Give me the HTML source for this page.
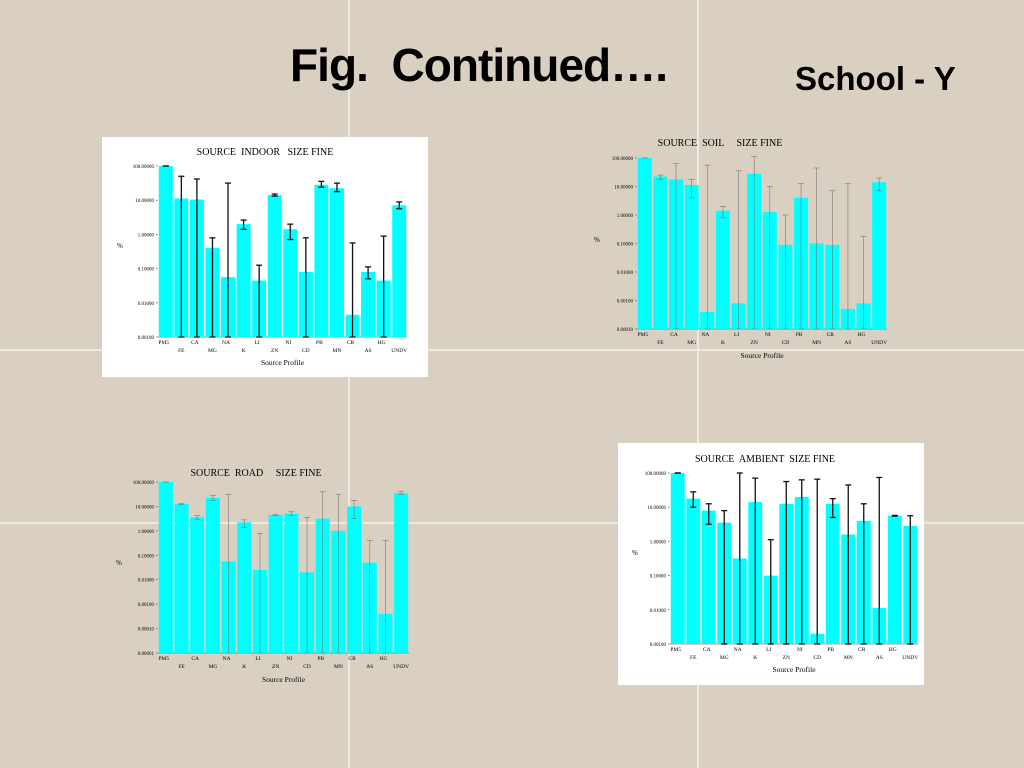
<!DOCTYPE html>
<html><head><meta charset="utf-8"><style>
body{margin:0;width:1024px;height:768px;overflow:hidden;background:#d9d0c2;font-family:"Liberation Sans",sans-serif}
svg{position:absolute;left:0;top:0}
text{white-space:pre}
</style></head><body>
<svg id="s" width="1024" height="768" xmlns="http://www.w3.org/2000/svg">
<rect width="1024" height="768" fill="#d9d0c2"/>
<g stroke="#f4f0ea" stroke-width="1.5">
<line x1="349" y1="0" x2="349" y2="768"/><line x1="698" y1="0" x2="698" y2="768"/>
<line x1="0" y1="350" x2="1024" y2="350"/><line x1="0" y1="523" x2="1024" y2="523"/>
</g>
<rect x="102" y="137" width="326" height="240" fill="#fff"/>
<rect x="618" y="443" width="306" height="242" fill="#fff"/>
<text x="290" y="81" font-size="46" font-weight="bold" fill="#000" textLength="378">Fig.  Continued….</text>
<text x="795" y="90" font-size="33" font-weight="bold" fill="#000">School - Y</text>
<g id="g"></g>
</svg>
<script>
var cats=["PM5","FE","CA","MG","NA","K","LI","ZN","NI","CD","PB","MN","CR","AS","HG","UNDV"];
var charts=[
{t:"SOURCE  INDOOR   SIZE FINE",tx:265,ty:155,x0:158,x1:407,yt:166,yb:337,top:2,dec:5,fmt:["100.00000","10.00000","1.00000","0.10000","0.01000","0.00100"],thick:1,
v:[2,1.05,1.02,-0.4,-1.25,0.3,-1.35,1.15,0.15,-1.1,1.45,1.35,-2.35,-1.1,-1.35,0.85],
e:[[2,2],[1.7,-3],[1.62,-3],[-0.1,-3],[1.5,-3],[0.42,0.15],[-0.9,-3],[1.18,1.12],[0.3,-0.15],[-0.1,-3],[1.55,1.38],[1.5,1.25],[-0.25,-3],[-0.95,-1.3],[-0.05,-3],[0.95,0.75]],py:248,px:117,sx:365},
{t:"SOURCE  SOIL     SIZE FINE",tx:720,ty:146,x0:637,x1:887,yt:158,yb:329,top:2,dec:6,fmt:["100.00000","10.00000","1.00000","0.10000","0.01000","0.00100","0.00010"],thick:0,
v:[2,1.35,1.25,1.05,-3.4,0.15,-3.1,1.45,0.1,-1.05,0.6,-1,-1.05,-3.3,-3.1,1.15],
e:[[2,2],[1.4,1.25],[1.8,-4],[1.25,0.6],[1.75,-4],[0.3,-0.1],[1.55,-4],[2.05,-4],[1.0,-4],[0,-4],[1.1,-4],[1.65,-4],[0.85,-4],[1.1,-4],[-0.75,-4],[1.3,0.85]],py:242,px:594,sx:358},
{t:"SOURCE  ROAD     SIZE FINE",tx:256,ty:476,x0:158,x1:409,yt:482,yb:653,top:2,dec:7,fmt:["100.00000","10.00000","1.00000","0.10000","0.01000","0.00100","0.00010","0.00001"],thick:0,
v:[2,1.1,0.55,1.35,-1.25,0.35,-1.6,0.65,0.7,-1.7,0.5,0,1.0,-1.3,-3.4,1.55],
e:[[2,2],[1.12,1.08],[0.62,0.48],[1.45,1.25],[1.5,-5],[0.45,0.15],[-0.1,-5],[0.68,0.62],[0.78,0.62],[0.55,-5],[1.6,-5],[1.5,-5],[1.25,0.5],[-0.4,-5],[-0.4,-5],[1.62,1.48]],py:565,px:116,sx:682},
{t:"SOURCE  AMBIENT  SIZE FINE",tx:765,ty:462,x0:670,x1:918,yt:473,yb:644,top:2,dec:5,fmt:["100.00000","10.00000","1.00000","0.10000","0.01000","0.00100"],thick:1,
v:[2,1.25,0.9,0.55,-0.5,1.15,-1,1.1,1.3,-2.7,1.1,0.2,0.6,-1.95,0.75,0.45],
e:[[2,2],[1.45,1.0],[1.1,0.5],[0.9,-3],[2,-3],[1.85,-3],[0.05,-3],[1.75,-3],[1.8,-3],[1.82,-3],[1.25,0.7],[1.65,-3],[1.1,-3],[1.87,-3],[0.76,0.74],[0.75,-3]],py:555,px:632,sx:672}
];
var h="";
charts.forEach(function(c){
 var d=(c.yb-c.yt)/c.dec, bw=(c.x1-c.x0)/16;
 function Y(l){return Math.min(c.yb,c.yt+(c.top-l)*d);}
 h+='<text x="'+c.tx+'" y="'+c.ty+'" font-family="Liberation Serif" font-size="10" text-anchor="middle">'+c.t+'</text>';
 for(var i=0;i<=c.dec;i++){var y=c.yt+i*d;h+='<text x="'+(c.x0-4)+'" y="'+(y+2)+'" font-family="Liberation Serif" font-size="5" text-anchor="end">'+c.fmt[i]+'</text><line x1="'+(c.x0-2)+'" x2="'+c.x0+'" y1="'+y+'" y2="'+y+'" stroke="#555" stroke-width="0.6"/>';}
 h+='<line x1="'+c.x0+'" x2="'+c.x1+'" y1="'+c.yb+'" y2="'+c.yb+'" stroke="#777" stroke-width="0.7"/>';
 cats.forEach(function(n,i){
  var x=c.x0+i*bw, y=Y(c.v[i]);
  h+='<rect x="'+(x+0.8)+'" y="'+y+'" width="'+(bw-1.6)+'" height="'+(c.yb-y)+'" fill="#00ffff"/>';
  var cx=x+bw/2, e=c.e[i], y1=Y(e[0]), y2=Y(e[1]);
  var col=c.thick?"#111":"#777", sw=c.thick?1.3:0.6;
  h+='<line x1="'+cx+'" x2="'+cx+'" y1="'+y1+'" y2="'+y2+'" stroke="'+col+'" stroke-width="'+sw+'"/>';
  h+='<line x1="'+(cx-3)+'" x2="'+(cx+3)+'" y1="'+y1+'" y2="'+y1+'" stroke="'+col+'" stroke-width="'+sw+'"/>';
  h+='<line x1="'+(cx-3)+'" x2="'+(cx+3)+'" y1="'+y2+'" y2="'+y2+'" stroke="'+col+'" stroke-width="'+sw+'"/>';
  var ly=c.yb+(i%2?15:7);
  h+='<text x="'+(i%2?cx:x+bw/2-2)+'" y="'+ly+'" font-family="Liberation Serif" font-size="5.5" text-anchor="middle">'+n+'</text>';
 });
 h+='<text x="'+c.px+'" y="'+c.py+'" font-family="Liberation Serif" font-size="7">%</text>';
 h+='<text x="'+((c.x0+c.x1)/2)+'" y="'+c.sx+'" font-family="Liberation Serif" font-size="7.5" text-anchor="middle">Source Profile</text>';
});
document.getElementById("g").innerHTML=h;
</script>
</body></html>
